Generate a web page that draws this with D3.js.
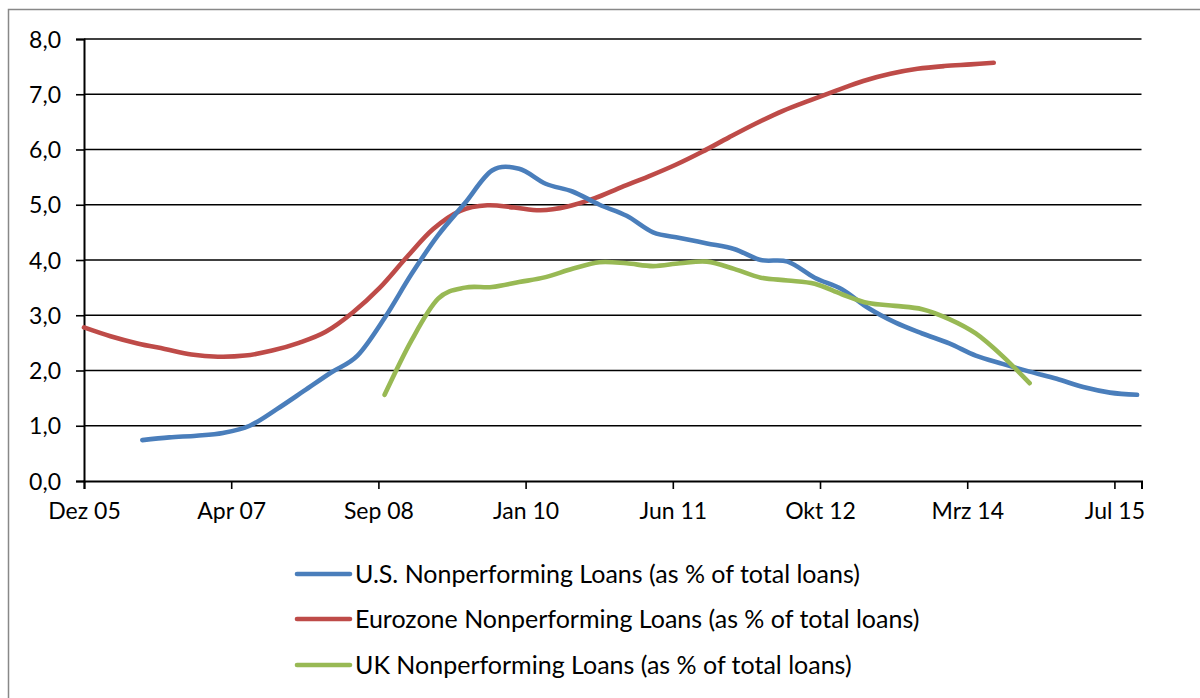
<!DOCTYPE html>
<html>
<head>
<meta charset="utf-8">
<script src="https://cdn.jsdelivr.net/npm/d3@7"></script>
<style>
  html, body { margin: 0; padding: 0; background: #fff; }
  svg { display: block; }
  text { font-family: Lato, "Open Sans", sans-serif; fill: #000; }
</style>
</head>
<body>
<svg id="chart" width="1200" height="698"></svg>
<script>
// ---------------- data ----------------
const xDomain = ["2005-12-15", "2015-10-16"];
const tickDates = ["2005-12-15", "2007-04-29", "2008-09-10", "2010-01-23", "2011-06-07", "2012-10-19", "2014-03-03", "2015-07-16"];
const tickLabels = ["Dez 05", "Apr 07", "Sep 08", "Jan 10", "Jun 11", "Okt 12", "Mrz 14", "Jul 15"];
const yTicks = [0, 1, 2, 3, 4, 5, 6, 7, 8];

const seriesNames = [
  "U.S. Nonperforming Loans (as % of total loans)",
  "Eurozone Nonperforming Loans (as % of total loans)",
  "UK Nonperforming Loans (as % of total loans)"
];
const seriesColors = ["#4A7EBB", "#BE4B48", "#98B954"];

const usDates = ["2006-07-01","2006-10-01","2007-01-01","2007-04-01","2007-07-01","2007-10-01",
  "2008-01-01","2008-04-01","2008-07-01","2008-10-01","2009-01-01","2009-04-01","2009-07-01","2009-10-01",
  "2010-01-01","2010-04-01","2010-07-01","2010-10-01","2011-01-01","2011-04-01","2011-07-01","2011-10-01",
  "2012-01-01","2012-04-01","2012-07-01","2012-10-01","2013-01-01","2013-04-01","2013-07-01","2013-10-01",
  "2014-01-01","2014-04-01","2014-07-01","2014-10-01","2015-01-01","2015-04-01","2015-07-01","2015-10-01"];
const usValues = [0.74, 0.79, 0.82, 0.87, 1.00, 1.30,
  1.63, 1.96, 2.27, 2.95, 3.75, 4.45, 5.03, 5.62,
  5.65, 5.38, 5.24, 5.00, 4.80, 4.50, 4.40, 4.30,
  4.20, 4.00, 3.97, 3.68, 3.47, 3.13, 2.87, 2.67,
  2.49, 2.27, 2.12, 1.98, 1.85, 1.70, 1.60, 1.56];

const euDates = ["2005-12-15","2006-03-15","2006-06-15","2006-09-15","2006-12-15",
  "2007-03-15","2007-06-15","2007-09-15","2007-12-15","2008-03-15","2008-06-15","2008-09-15","2008-12-15",
  "2009-03-15","2009-06-15","2009-09-15","2009-12-15","2010-03-15","2010-06-15","2010-09-15","2010-12-15",
  "2011-03-15","2011-06-15","2011-09-15","2011-12-15","2012-03-15","2012-06-15","2012-09-15","2012-12-15",
  "2013-03-15","2013-06-15","2013-09-15","2013-12-15","2014-03-15","2014-06-01"];
const euValues = [2.78, 2.62, 2.49, 2.39, 2.29,
  2.25, 2.27, 2.36, 2.50, 2.70, 3.05, 3.50, 4.05,
  4.56, 4.89, 4.99, 4.95, 4.90, 4.97, 5.12, 5.32,
  5.51, 5.72, 5.96, 6.22, 6.47, 6.70, 6.89, 7.07,
  7.24, 7.37, 7.46, 7.51, 7.54, 7.57];

const ukDates = ["2008-10-01","2009-01-01","2009-04-01","2009-07-01","2009-10-01",
  "2010-01-01","2010-04-01","2010-07-01","2010-10-01","2011-01-01","2011-04-01","2011-07-01","2011-10-01",
  "2012-01-01","2012-04-01","2012-07-01","2012-10-01","2013-01-01","2013-04-01","2013-07-01","2013-10-01",
  "2014-01-01","2014-04-01","2014-07-01","2014-10-01"];
const ukValues = [1.56, 2.55, 3.30, 3.50, 3.51,
  3.60, 3.69, 3.84, 3.96, 3.94, 3.89, 3.94, 3.97,
  3.84, 3.68, 3.63, 3.57, 3.38, 3.22, 3.17, 3.11,
  2.93, 2.67, 2.26, 1.77];

// ---------------- drawing ----------------
const parse = d3.timeParse("%Y-%m-%d");
const svg = d3.select("#chart");

// outer chart frame
svg.append("rect")
  .attr("x", 8.5).attr("y", 9.5).attr("width", 1210).attr("height", 710)
  .attr("fill", "#fff").attr("stroke", "#888").attr("stroke-width", 1.5);

const x = d3.scaleTime().domain(xDomain.map(parse)).range([84, 1141.5]);
const y = d3.scaleLinear().domain([0, 8]).range([481, 39]);

// gridlines
svg.append("g").selectAll("line").data(yTicks.filter(d => d > 0)).join("line")
  .attr("x1", 84).attr("x2", 1141.5)
  .attr("y1", d => y(d)).attr("y2", d => y(d))
  .attr("stroke", "#000").attr("stroke-width", 1.6);

// y axis
const yAxis = d3.axisLeft(y).tickValues(yTicks).tickSize(8).tickPadding(15)
  .tickFormat(d => d3.format(".1f")(d).replace(".", ","));
const gy = svg.append("g").attr("transform", "translate(84,0)").call(yAxis);
gy.select(".domain").attr("stroke", "#000").attr("stroke-width", 2);
gy.selectAll(".tick line").attr("stroke", "#000").attr("stroke-width", 1.6);
gy.selectAll(".tick text").attr("font-size", 23).attr("dy", "0.35em").attr("fill", "#000");

// x axis
const xAxis = d3.axisBottom(x).tickValues(tickDates.map(parse)).tickSize(8).tickPadding(14)
  .tickFormat((d, i) => tickLabels[i]);
const gx = svg.append("g").attr("transform", "translate(0,481)").call(xAxis);
gx.select(".domain").attr("stroke", "#000").attr("stroke-width", 2);
gx.selectAll(".tick line").attr("stroke", "#000").attr("stroke-width", 1.6);
gx.selectAll(".tick text").attr("font-size", 23).attr("fill", "#000");

// series
const allSeries = [
  { dates: usDates, values: usValues },
  { dates: euDates, values: euValues },
  { dates: ukDates, values: ukValues }
];
const line = d3.line()
  .x(d => x(d.date)).y(d => y(d.value))
  .curve(d3.curveCatmullRom.alpha(0));

// draw order: red, blue, green
[1, 0, 2].forEach(i => {
  const s = allSeries[i];
  const pts = s.dates.map((dt, j) => ({ date: parse(dt), value: s.values[j] }));
  svg.append("path").datum(pts)
    .attr("d", line)
    .attr("fill", "none")
    .attr("stroke", seriesColors[i])
    .attr("stroke-width", 4.6)
    .attr("stroke-linecap", "round")
    .attr("stroke-linejoin", "round");
});

// legend
const legendY = [574, 619, 665];
const lg = svg.append("g");
seriesNames.forEach((name, i) => {
  lg.append("line")
    .attr("x1", 297).attr("x2", 350)
    .attr("y1", legendY[i]).attr("y2", legendY[i])
    .attr("stroke", seriesColors[i]).attr("stroke-width", 4.6)
    .attr("stroke-linecap", "round");
  lg.append("text")
    .attr("x", 355).attr("y", legendY[i])
    .attr("dy", "0.35em")
    .attr("font-size", 25)
    .text(name);
});
</script>
</body>
</html>
